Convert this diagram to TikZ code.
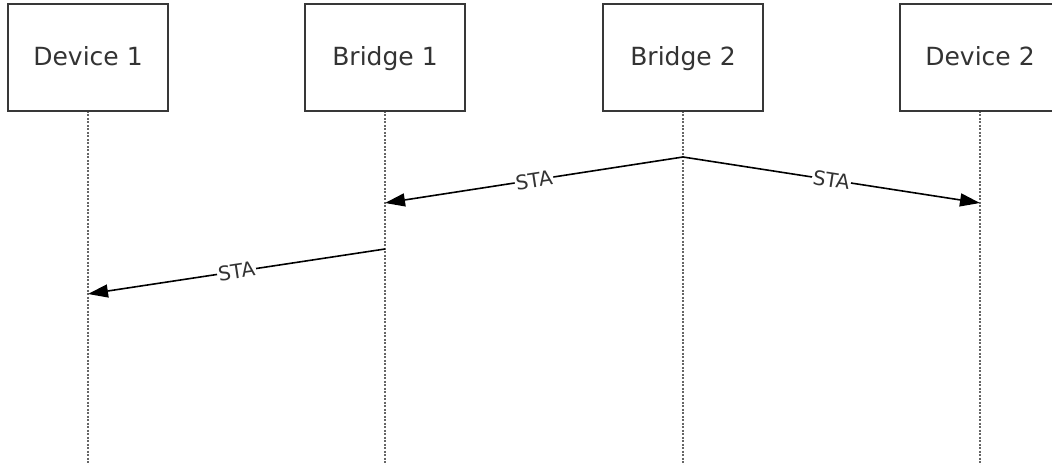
\documentclass[tikz,border=0pt]{standalone}
\usepackage{fontspec}
\setmainfont{DejaVu Sans}
\usetikzlibrary{arrows.meta}
\begin{document}
\begin{tikzpicture}[x=1pt,y=-1pt,
  actor/.style={draw=black!78,line width=2pt,fill=white,minimum width=160pt,minimum height=107pt,inner sep=0pt,text height=18pt,text depth=2pt,text=black!80,font=\fontsize{25}{29}\selectfont},
  lifeline/.style={draw=black!60,line width=1.8pt,dash pattern=on 2pt off 1.5pt},
  msg/.style={draw=black,line width=1.6pt,-{Triangle[length=20pt,width=13pt]}},
  lbl/.style={midway,sloped,fill=white,inner sep=1pt,text=black!80,font=\fontsize{20}{23}\selectfont}]
\useasboundingbox (0,0) rectangle (1052,465);
\clip (0,0) rectangle (1052,465);
\coordinate (d1e) at (88,470);
\coordinate (b1e) at (385,470);
\coordinate (b2e) at (683,470);
\coordinate (d2e) at (980,470);
\draw[lifeline] (88,111) -- (d1e);
\draw[lifeline] (385,111) -- (b1e);
\draw[lifeline] (683,111) -- (b2e);
\draw[lifeline] (980,111) -- (d2e);
\node[actor] (d1) at (88,57.5) {Device 1};
\node[actor] (b1) at (385,57.5) {Bridge 1};
\node[actor] (b2) at (683,57.5) {Bridge 2};
\node[actor] (d2) at (980,57.5) {Device 2};
\coordinate (m1s) at (683,157);
\coordinate (m1e) at (385,203);
\coordinate (m2e) at (980,203);
\coordinate (m3s) at (385,249);
\coordinate (m3e) at (88,294);
\draw[msg] (m1s) -- node[lbl]{STA} (m1e);
\draw[msg] (m1s) -- node[lbl]{STA} (m2e);
\draw[msg] (m3s) -- node[lbl]{STA} (m3e);
\end{tikzpicture}
\end{document}
